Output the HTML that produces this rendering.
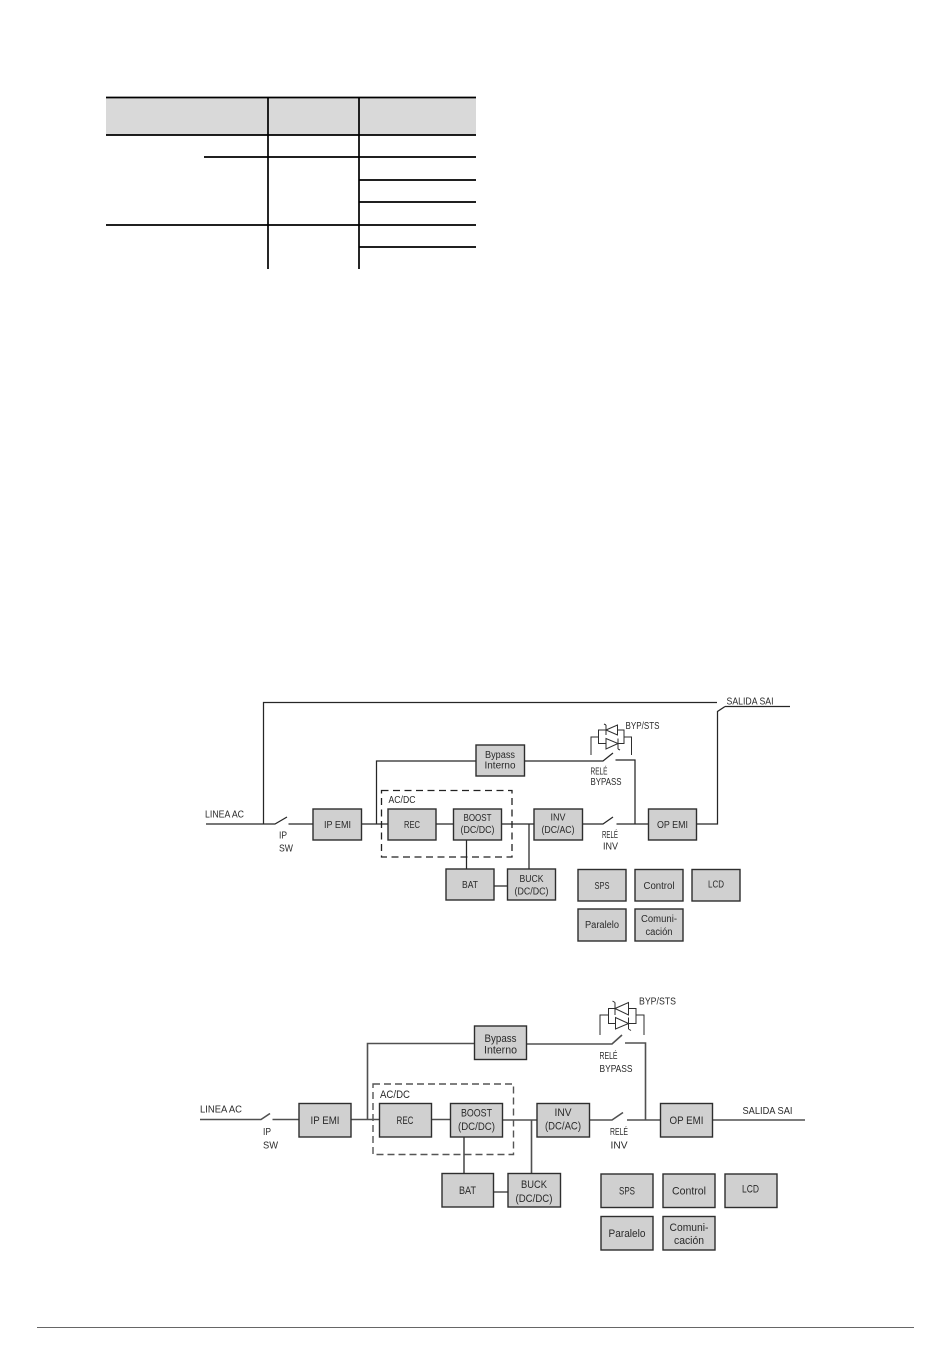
<!DOCTYPE html>
<html lang="es"><head><meta charset="utf-8"><title>Diagrama SAI</title>
<style>
html,body{margin:0;padding:0;background:#fff;width:950px;height:1353px;overflow:hidden}
svg{display:block}
text{font-family:"Liberation Sans",sans-serif;font-size:10px;fill:#2a2a2a}
.m{text-anchor:middle}
.b{fill:#d0d0d0;stroke:#2e2e2e;stroke-width:1.4}
.l{fill:none;stroke:#262626;stroke-width:1.25}
.g{fill:none;stroke:#505050;stroke-width:1.6}
.t{stroke:#000;stroke-width:1.7;fill:none}
.s{fill:none;stroke:#2e2e2e;stroke-width:1}
.d{fill:none;stroke:#222;stroke-width:1.3;stroke-dasharray:7 4.500}
.d2{fill:none;stroke:#555;stroke-width:1.4;stroke-dasharray:7 4}
.lg{font-size:10.8px}
</style></head><body>
<svg width="950" height="1353" viewBox="0 0 950 1353" xmlns="http://www.w3.org/2000/svg">
<!-- table -->
<rect x="106" y="97" width="370" height="38" fill="#d9d9d9"/>
<path class="t" d="M106 97.500H476M106 135H476M204 157H476M359 180H476M359 202H476M106 225H476M359 247H476M268 97V269M359 97V269"/>

<!-- diagram 1 lines -->
<path class="l" d="M206 824H275L287 817M288.500 824H313M263.500 824V702.500H717M725 706.500L717.500 711.500V824H697M725 706.500H790M376.500 824V761H476M524 761H603L613 753M615.500 760H635V824M616.500 824H648M362 824H388M436 824H453M501 824H534M529 824V869M466.500 840V869M494 886H507M583 824H603L613 817"/>
<path class="d" d="M381.500 790.500H512V857H381.500Z"/>
<rect class="b" x="313" y="809" width="48.500" height="31"/>
<rect class="b" x="388" y="809" width="48" height="31"/>
<rect class="b" x="453.500" y="809" width="48" height="31"/>
<rect class="b" x="534" y="809" width="48.500" height="31"/>
<rect class="b" x="648.500" y="809" width="48" height="31"/>
<rect class="b" x="476" y="745" width="48.500" height="31"/>
<rect class="b" x="446" y="869" width="48" height="31"/>
<rect class="b" x="507.500" y="869" width="48" height="31"/>
<rect class="b" x="578" y="869.500" width="48" height="31.500"/>
<rect class="b" x="635" y="869.500" width="48" height="31.500"/>
<rect class="b" x="692" y="869.500" width="48" height="31.500"/>
<rect class="b" x="578" y="909" width="48" height="32"/>
<rect class="b" x="635" y="909" width="48" height="32"/>
<!-- SCR 1 -->
<path class="s" d="M591 755V737H598.500V730H606M617.500 730H624V737H631.500V755M598.500 737V743.500H606M618 743.500H624V737M606 725V735M606 730L617.500 725V735Z M606 738.500V749L618 743.500Z M618 738.500V749M606 725L604 724M618 749L620 750"/>

<text x="205" y="817.500" textLength="39" lengthAdjust="spacingAndGlyphs">LINEA AC</text>
<text x="279" y="838.500" textLength="8" lengthAdjust="spacingAndGlyphs">IP</text>
<text x="279" y="851.500" textLength="14" lengthAdjust="spacingAndGlyphs">SW</text>
<text class="m" x="337.500" y="828" textLength="27" lengthAdjust="spacingAndGlyphs">IP EMI</text>
<text class="m" x="412" y="828" textLength="16" lengthAdjust="spacingAndGlyphs">REC</text>
<text class="m" x="477.500" y="821" textLength="28" lengthAdjust="spacingAndGlyphs">BOOST</text>
<text class="m" x="477.500" y="833" textLength="34" lengthAdjust="spacingAndGlyphs">(DC/DC)</text>
<text class="m" x="500" y="758" textLength="30" lengthAdjust="spacingAndGlyphs">Bypass</text>
<text class="m" x="500" y="768.500" textLength="31" lengthAdjust="spacingAndGlyphs">Interno</text>
<text x="388.500" y="803" textLength="27" lengthAdjust="spacingAndGlyphs">AC/DC</text>
<text class="m" x="470" y="888" textLength="16" lengthAdjust="spacingAndGlyphs">BAT</text>
<text class="m" x="531.500" y="882" textLength="24" lengthAdjust="spacingAndGlyphs">BUCK</text>
<text class="m" x="531.500" y="894.500" textLength="34" lengthAdjust="spacingAndGlyphs">(DC/DC)</text>
<text class="m" x="558" y="820.500" textLength="15" lengthAdjust="spacingAndGlyphs">INV</text>
<text class="m" x="558" y="833" textLength="33" lengthAdjust="spacingAndGlyphs">(DC/AC)</text>
<text x="602" y="838" textLength="16" lengthAdjust="spacingAndGlyphs">RELÉ</text>
<text x="603" y="849.500" textLength="15" lengthAdjust="spacingAndGlyphs">INV</text>
<text x="590.500" y="774.500" textLength="17" lengthAdjust="spacingAndGlyphs">RELÉ</text>
<text x="590.500" y="785" textLength="31" lengthAdjust="spacingAndGlyphs">BYPASS</text>
<text x="625.500" y="729" textLength="34" lengthAdjust="spacingAndGlyphs">BYP/STS</text>
<text x="726.500" y="704.500" textLength="47" lengthAdjust="spacingAndGlyphs">SALIDA SAI</text>
<text class="m" x="672.500" y="828" textLength="31" lengthAdjust="spacingAndGlyphs">OP EMI</text>
<text class="m" x="602" y="889" textLength="15" lengthAdjust="spacingAndGlyphs">SPS</text>
<text class="m" x="659" y="889" textLength="31" lengthAdjust="spacingAndGlyphs">Control</text>
<text class="m" x="716" y="887.500" textLength="16" lengthAdjust="spacingAndGlyphs">LCD</text>
<text class="m" x="602" y="928" textLength="34" lengthAdjust="spacingAndGlyphs">Paralelo</text>
<text class="m" x="659" y="922" textLength="36" lengthAdjust="spacingAndGlyphs">Comuni-</text>
<text class="m" x="659" y="935" textLength="27" lengthAdjust="spacingAndGlyphs">cación</text>

<!-- diagram 2 lines -->
<path class="g" d="M200 1119.500H261L270 1113.500M272.500 1119.500H299M351 1119.500H380M367.500 1119.500V1043.500H475M527 1044H612L622 1035M625 1043H645.500V1120M627 1120H660M431 1119.500H450.500M502 1120H537M531.500 1120V1174M464 1137V1173.500M493 1192H508M589 1120H612L623 1112.500M713 1120H805"/>
<path class="d2" d="M373 1084H513.500V1154.500H373Z"/>
<rect class="b" x="299" y="1103.500" width="52" height="33.500"/>
<rect class="b" x="379.500" y="1103.500" width="52" height="33.500"/>
<rect class="b" x="450.500" y="1103.500" width="52" height="33.500"/>
<rect class="b" x="537" y="1103.500" width="52.500" height="33.500"/>
<rect class="b" x="660.500" y="1103.500" width="52" height="33.500"/>
<rect class="b" x="474.500" y="1026" width="52" height="33.500"/>
<rect class="b" x="442" y="1173.500" width="51.500" height="33.500"/>
<rect class="b" x="508" y="1173.500" width="52.500" height="33.500"/>
<rect class="b" x="601" y="1174" width="52" height="33.500"/>
<rect class="b" x="663" y="1174" width="52" height="33.500"/>
<rect class="b" x="725" y="1174" width="52" height="33.500"/>
<rect class="b" x="601" y="1216.500" width="52" height="33.500"/>
<rect class="b" x="663" y="1216.500" width="52" height="33.500"/>
<!-- SCR 2 -->
<path class="s" d="M600 1035V1015H608.500V1008.500H615M628.500 1008.500H636V1015H644V1035M608.500 1015V1023.500H615.500M628.500 1023.500H636V1015M615 1002.500V1015M615 1008.500L628.500 1002.500V1015Z M615.500 1017.500V1029L628.500 1023.500Z M628.500 1017.500V1029M615 1002.500L612.500 1001M628.500 1029L631 1030.500"/>

<text x="200" y="1112.500" textLength="42" lengthAdjust="spacingAndGlyphs">LINEA AC</text>
<text x="263" y="1135" textLength="8" lengthAdjust="spacingAndGlyphs">IP</text>
<text x="263" y="1148.500" textLength="15" lengthAdjust="spacingAndGlyphs">SW</text>
<text class="m lg" x="325" y="1124" textLength="29" lengthAdjust="spacingAndGlyphs">IP EMI</text>
<text class="m lg" x="405" y="1124" textLength="17" lengthAdjust="spacingAndGlyphs">REC</text>
<text class="m lg" x="476.500" y="1116.500" textLength="31" lengthAdjust="spacingAndGlyphs">BOOST</text>
<text class="m lg" x="476.500" y="1130" textLength="37" lengthAdjust="spacingAndGlyphs">(DC/DC)</text>
<text class="m lg" x="500.500" y="1042" textLength="32" lengthAdjust="spacingAndGlyphs">Bypass</text>
<text class="m lg" x="500.500" y="1053.500" textLength="33" lengthAdjust="spacingAndGlyphs">Interno</text>
<text class="lg" x="380" y="1098" textLength="30" lengthAdjust="spacingAndGlyphs">AC/DC</text>
<text class="m lg" x="467.500" y="1194" textLength="17" lengthAdjust="spacingAndGlyphs">BAT</text>
<text class="m lg" x="534" y="1188" textLength="26" lengthAdjust="spacingAndGlyphs">BUCK</text>
<text class="m lg" x="534" y="1202" textLength="37" lengthAdjust="spacingAndGlyphs">(DC/DC)</text>
<text class="m lg" x="563" y="1116" textLength="17" lengthAdjust="spacingAndGlyphs">INV</text>
<text class="m lg" x="563" y="1129.500" textLength="36" lengthAdjust="spacingAndGlyphs">(DC/AC)</text>
<text x="610" y="1135" textLength="18" lengthAdjust="spacingAndGlyphs">RELÉ</text>
<text x="610.500" y="1148.500" textLength="17" lengthAdjust="spacingAndGlyphs">INV</text>
<text x="599.500" y="1059" textLength="18" lengthAdjust="spacingAndGlyphs">RELÉ</text>
<text x="599.500" y="1072" textLength="33" lengthAdjust="spacingAndGlyphs">BYPASS</text>
<text x="639" y="1004.500" textLength="37" lengthAdjust="spacingAndGlyphs">BYP/STS</text>
<text x="742.500" y="1114" textLength="50" lengthAdjust="spacingAndGlyphs">SALIDA SAI</text>
<text class="m lg" x="686.500" y="1124" textLength="34" lengthAdjust="spacingAndGlyphs">OP EMI</text>
<text class="m lg" x="627" y="1194.500" textLength="16" lengthAdjust="spacingAndGlyphs">SPS</text>
<text class="m lg" x="689" y="1194.500" textLength="34" lengthAdjust="spacingAndGlyphs">Control</text>
<text class="m lg" x="750.500" y="1192.500" textLength="17" lengthAdjust="spacingAndGlyphs">LCD</text>
<text class="m lg" x="627" y="1237" textLength="37" lengthAdjust="spacingAndGlyphs">Paralelo</text>
<text class="m lg" x="689" y="1231" textLength="39" lengthAdjust="spacingAndGlyphs">Comuni-</text>
<text class="m lg" x="689" y="1244" textLength="30" lengthAdjust="spacingAndGlyphs">cación</text>

<!-- footer rule -->
<line x1="37" y1="1327.500" x2="914" y2="1327.500" stroke="#666" stroke-width="1"/>
</svg>
</body></html>
